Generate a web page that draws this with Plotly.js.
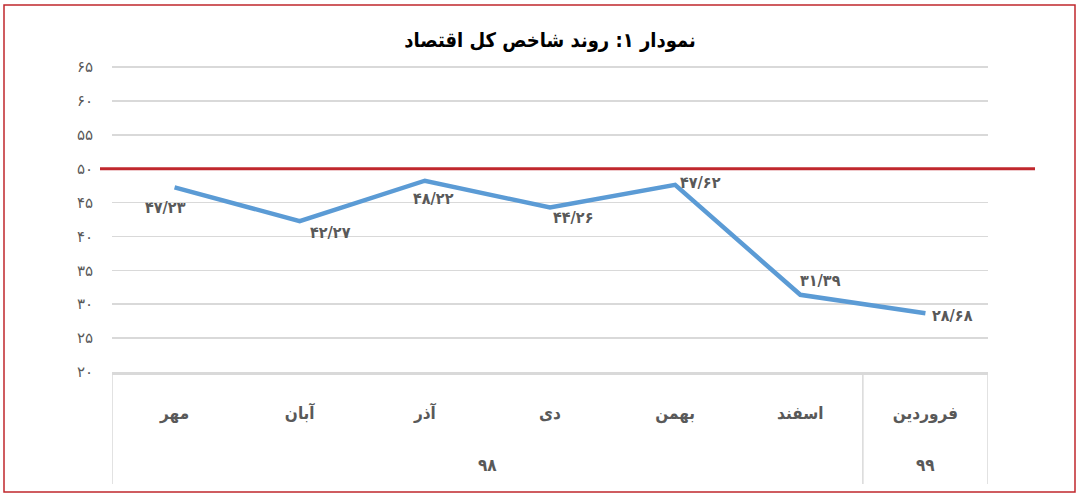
<!DOCTYPE html>
<html>
<head>
<meta charset="utf-8">
<script src="https://cdn.plot.ly/plotly-3.0.1.min.js"></script>
<style>
html,body{margin:0;padding:0;background:#fff;}
#chart{width:1079px;height:500px;}
</style>
</head>
<body>
<div id="chart"></div>
<script>
// ---- data ----
const months = ['مهر', 'آبان', 'آذر', 'دی', 'بهمن', 'اسفند', 'فروردین'];
const years = ['۹۸', '۹۸', '۹۸', '۹۸', '۹۸', '۹۸', '۹۹'];
const values = [47.23, 42.27, 48.22, 44.26, 47.62, 31.39, 28.68];
const valueLabels = ['۴۷/۲۳', '۴۲/۲۷', '۴۸/۲۲', '۴۴/۲۶', '۴۷/۶۲', '۳۱/۳۹', '۲۸/۶۸'];
const yTickVals = [20, 25, 30, 35, 40, 45, 50, 55, 60, 65];
const yTickText = ['۲۰', '۲۵', '۳۰', '۳۵', '۴۰', '۴۵', '۵۰', '۵۵', '۶۰', '۶۵'];
const threshold = 50;
const titleText = 'نمودار ۱: روند شاخص کل اقتصاد';

// ---- styles ----
const labelOffsets = [[-9, 20], [31, 11], [9, 18], [23, 10], [25, -2], [20, -14], [27, 2]];
const fontFam = '"DejaVu Sans", "Noto Sans", sans-serif';
const condFam = '"DejaVu Sans Condensed", "DejaVu Sans", sans-serif';
const gray = '#595959';
const idx = months.map((m, i) => i);

const W = 1079, H = 500, L = 112, R = 91, T = 64, B = 128;
const pw = W - L - R, ph = H - T - B;
const px2paperX = p => (p - L) / pw;
const px2paperY = p => (H - B - p) / ph;

const annotations = [];
values.forEach((v, i) => {
  annotations.push({
    x: idx[i], y: v, xref: 'x', yref: 'y', text: '<b>' + valueLabels[i] + '</b>', showarrow: false,
    xanchor: 'center', yanchor: 'middle',
    xshift: labelOffsets[i][0], yshift: -labelOffsets[i][1],
    font: {family: condFam, size: 16, color: gray}
  });
});
// year group labels
const groups = [];
years.forEach((y, i) => {
  if (!groups.length || groups[groups.length - 1].name !== y) groups.push({name: y, start: i, end: i});
  else groups[groups.length - 1].end = i;
});
groups.forEach(g => {
  annotations.push({
    x: (idx[g.start] + idx[g.end]) / 2, y: px2paperY(465), xref: 'x', yref: 'paper',
    text: '<b>' + g.name + '</b>', showarrow: false, xanchor: 'center', yanchor: 'middle',
    font: {family: condFam, size: 17, color: gray}
  });
});

const shapes = [
  // outer border
  {type: 'rect', xref: 'paper', yref: 'paper', x0: px2paperX(4), x1: px2paperX(1075),
   y0: px2paperY(492), y1: px2paperY(5), line: {color: '#C0272D', width: 1.5}, layer: 'below'},
  // threshold line
  {type: 'line', xref: 'paper', yref: 'y', x0: px2paperX(100), x1: px2paperX(1035),
   y0: threshold, y1: threshold, line: {color: '#C0272D', width: 3}}
];
// group dividers
const dividerXs = [idx[0] - 0.5];
groups.forEach(g => dividerXs.push(idx[g.end] + 0.5));
dividerXs.forEach(x => {
  shapes.push({type: 'line', xref: 'x', yref: 'paper', x0: x, x1: x,
    y0: 0, y1: px2paperY(484), line: {color: '#D9D9D9', width: 1.5}});
});

const trace = {
  x: idx, y: values, type: 'scatter', mode: 'lines',
  line: {color: '#5B9BD5', width: 4.5}, hoverinfo: 'skip', cliponaxis: false
};

const layout = {
  width: W, height: H,
  margin: {l: L, r: R, t: T, b: B, pad: 0},
  paper_bgcolor: '#fff', plot_bgcolor: '#fff',
  showlegend: false,
  title: {text: '<b>' + titleText + '</b>', x: 0.5, xref: 'paper', xanchor: 'center',
          y: 1 - 40 / H, yref: 'container', yanchor: 'middle',
          font: {family: condFam, size: 20, color: '#000'}},
  xaxis: {
    range: [-0.5, months.length - 0.5], tickvals: idx, ticktext: months.map(m => '<b>' + m + '</b>'),
    showgrid: false, zeroline: false, showline: true, linecolor: '#D9D9D9', linewidth: 3,
    ticks: '', ticklabelstandoff: 24, tickfont: {family: condFam, size: 17, color: gray},
    fixedrange: true
  },
  yaxis: {
    range: [20, 65.44], tickvals: yTickVals, ticktext: yTickText,
    showgrid: true, gridcolor: '#D9D9D9', gridwidth: 1.5, zeroline: false, showline: false,
    ticks: '', ticklabelstandoff: 18, tickfont: {family: fontFam, size: 15, color: gray},
    fixedrange: true
  },
  shapes: shapes,
  annotations: annotations
};

Plotly.newPlot('chart', [trace], layout, {displayModeBar: false, staticPlot: true});
</script>
</body>
</html>
